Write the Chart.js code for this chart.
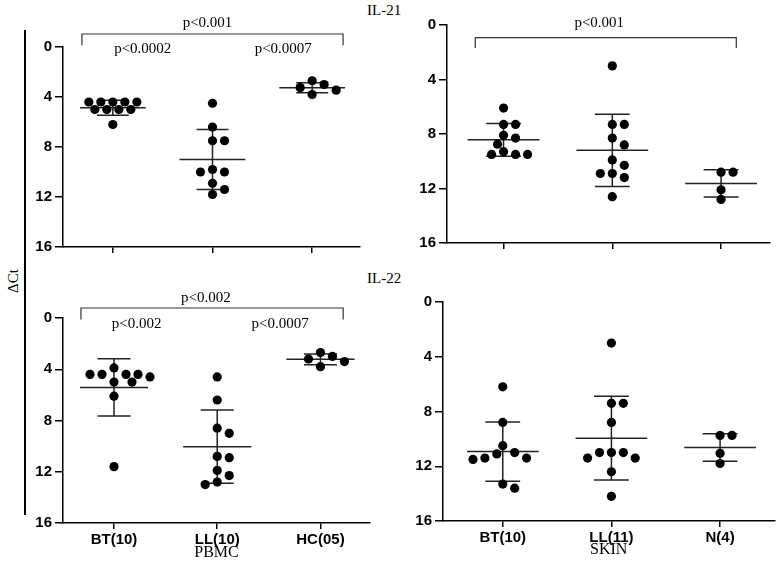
<!DOCTYPE html>
<html>
<head>
<meta charset="utf-8">
<script src="https://cdn.jsdelivr.net/npm/chart.js@4.4.0/dist/chart.umd.min.js"></script>
<style>
  html, body { margin: 0; padding: 0; background: #fff; }
  #fig { position: relative; width: 779px; height: 565px; overflow: hidden; }
  #fig canvas { position: absolute; left: 0; top: 0; }
  .lbl { position: absolute; font-family: 'Liberation Serif', 'Times New Roman', serif; font-size: 15px; line-height: 17px; color: #000; white-space: nowrap; }
  #vline { position: absolute; left: 24px; top: 30px; width: 1.5px; height: 485px; background: #000; }
  #dct { left: 13px; top: 281px; transform: translate(-50%, -50%) rotate(-90deg); }
</style>
</head>
<body>
<div id="fig">
  <div id="vline"></div>
  <div class="lbl" id="dct">ΔCt</div>
  <div class="lbl" style="left:367px; top:2px;">IL-21</div>
  <div class="lbl" style="left:367px; top:270px;">IL-22</div>
  <canvas id="c1" width="779" height="565"></canvas>
  <canvas id="c2" width="779" height="565"></canvas>
  <canvas id="c3" width="779" height="565"></canvas>
  <canvas id="c4" width="779" height="565"></canvas>
</div>
<script>
// groups and axis
const pbmcGroups = ['BT(10)', 'LL(10)', 'HC(05)'];
const skinGroups = ['BT(10)', 'LL(11)', 'N(4)'];
const yTicks = [0, 4, 8, 12, 16];

// IL-21, PBMC (delta Ct)
const il21PbmcBT = [4.4, 4.4, 4.4, 4.4, 4.4, 5.0, 5.0, 5.0, 5.0, 6.2];
const il21PbmcLL = [4.5, 6.4, 7.5, 7.5, 9.8, 10.0, 10.0, 10.9, 11.4, 11.8];
const il21PbmcHC = [2.7, 3.0, 3.25, 3.45, 3.8];
const il21PbmcMean = [4.85, 9.0, 3.25];
const il21PbmcSD = [0.6, 2.4, 0.4];
const il21PbmcP = ['p<0.001', 'p<0.0002', 'p<0.0007'];

// IL-21, skin
const il21SkinBT = [6.1, 7.3, 7.3, 8.1, 8.3, 8.75, 9.3, 9.5, 9.5, 9.5];
const il21SkinLL = [3.0, 7.3, 7.3, 8.3, 8.8, 9.9, 10.3, 10.9, 10.9, 11.2, 12.6];
const il21SkinN = [10.8, 10.8, 12.1, 12.8];
const il21SkinMean = [8.43, 9.2, 11.63];
const il21SkinSD = [1.2, 2.65, 1.0];
const il21SkinP = ['p<0.001'];

// IL-22, PBMC
const il22PbmcBT = [3.9, 4.4, 4.4, 4.4, 4.4, 4.6, 5.0, 5.0, 6.1, 11.6];
const il22PbmcLL = [4.6, 6.4, 8.6, 9.0, 10.8, 10.9, 11.9, 12.3, 12.8, 13.0];
const il22PbmcHC = [2.7, 3.0, 3.2, 3.4, 3.8];
const il22PbmcMean = [5.42, 10.04, 3.22];
const il22PbmcSD = [2.23, 2.85, 0.42];
const il22PbmcP = ['p<0.002', 'p<0.002', 'p<0.0007'];

// IL-22, skin
const il22SkinBT = [6.2, 8.8, 10.5, 11.0, 11.1, 11.4, 11.4, 11.5, 13.3, 13.6];
const il22SkinLL = [3.0, 7.4, 7.4, 8.8, 11.0, 11.0, 11.0, 11.4, 11.4, 12.4, 14.2];
const il22SkinN = [9.75, 9.75, 11.05, 11.8];
const il22SkinMean = [10.93, 9.95, 10.63];
const il22SkinSD = [2.16, 3.06, 1.0];

const W = 779, H = 565, Y_AXIS_W = 50;
const serif = "'Liberation Serif', 'Times New Roman', serif";
const sans = "'Liberation Sans', Arial, sans-serif";

const panels = [
  { id: 'c1', groups: pbmcGroups, sets: [il21PbmcBT, il21PbmcLL, il21PbmcHC], mean: il21PbmcMean, sd: il21PbmcSD,
    box: { left: 63, right: 360, top: 47, bottom: 247 }, xMin: 0.5, xMax: 3.48, xH: 10, labels: false, title: '',
    bracket: { x1: 0.69, x2: 3.31, yTop: -1.04, yEnd: -0.14 },
    notes: il21PbmcP.map((t, i) => ({ text: t, x: [1.95, 1.3, 2.71][i], y: [-1.9, 0.15, 0.15][i] })) },
  { id: 'c2', groups: skinGroups, sets: [il21SkinBT, il21SkinLL, il21SkinN], mean: il21SkinMean, sd: il21SkinSD,
    box: { left: 447, right: 770, top: 25, bottom: 243 }, xMin: 0.48, xMax: 3.45, xH: 10, labels: false, title: '',
    bracket: { x1: 0.74, x2: 3.14, yTop: 0.93, yEnd: 1.69 },
    notes: il21SkinP.map(t => ({ text: t, x: 1.88, y: -0.17 })) },
  { id: 'c3', groups: pbmcGroups, sets: [il22PbmcBT, il22PbmcLL, il22PbmcHC], mean: il22PbmcMean, sd: il22PbmcSD,
    box: { left: 63, right: 370, top: 318, bottom: 523 }, xMin: 0.506, xMax: 3.48, xH: 39, labels: true, title: 'PBMC',
    bracket: { x1: 0.68, x2: 3.22, yTop: -0.78, yEnd: 0.12 },
    notes: il22PbmcP.map((t, i) => ({ text: t, x: [1.89, 1.22, 2.61][i], y: [-1.59, 0.44, 0.44][i] })) },
  { id: 'c4', groups: skinGroups, sets: [il22SkinBT, il22SkinLL, il22SkinN], mean: il22SkinMean, sd: il22SkinSD,
    box: { left: 443, right: 777, top: 302, bottom: 521 }, xMin: 0.45, xMax: 3.5, xH: 38, labels: true, title: 'SKIN',
    bracket: null, notes: [] }
];

// spread equal-ish values sideways like a dot plot
function swarm(values, center, ppx, ppy) {
  const placed = [];
  values.slice().sort((a, b) => a - b).forEach(v => {
    for (let k = 0; k < 40; k++) {
      const off = k === 0 ? 0 : (k % 2 ? (k + 1) / 2 : -k / 2);
      const dx = off * 6;
      const hit = placed.some(q => Math.hypot(q.dx - dx, (q.v - v) * ppy) < 9.5);
      if (!hit) { placed.push({ dx: dx, v: v }); break; }
    }
  });
  return placed.map(q => ({ x: center + q.dx / ppx, y: q.v }));
}

function statsPlugin(p) {
  return {
    id: 'stats' + p.id,
    beforeDatasetsDraw(chart) {
      const ctx = chart.ctx, xs = chart.scales.x, ys = chart.scales.y;
      const seg = (x1, y1, x2, y2) => {
        ctx.beginPath();
        ctx.moveTo(xs.getPixelForValue(x1), ys.getPixelForValue(y1));
        ctx.lineTo(xs.getPixelForValue(x2), ys.getPixelForValue(y2));
        ctx.stroke();
      };
      ctx.save();
      ctx.strokeStyle = '#222';
      ctx.lineWidth = 1.5;
      p.mean.forEach((m, i) => {
        const c = i + 1, lo = m - p.sd[i], hi = m + p.sd[i];
        seg(c - 0.33, m, c + 0.33, m);
        seg(c, lo, c, hi);
        seg(c - 0.16, lo, c + 0.16, lo);
        seg(c - 0.16, hi, c + 0.16, hi);
      });
      ctx.restore();
    },
    afterDraw(chart) {
      const ctx = chart.ctx, xs = chart.scales.x, ys = chart.scales.y;
      const X = v => xs.getPixelForValue(v), Y = v => ys.getPixelForValue(v);
      ctx.save();
      if (p.bracket) {
        const b = p.bracket;
        ctx.strokeStyle = '#333';
        ctx.lineWidth = 1.2;
        ctx.beginPath();
        ctx.moveTo(X(b.x1), Y(b.yEnd));
        ctx.lineTo(X(b.x1), Y(b.yTop));
        ctx.lineTo(X(b.x2), Y(b.yTop));
        ctx.lineTo(X(b.x2), Y(b.yEnd));
        ctx.stroke();
      }
      ctx.fillStyle = '#000';
      ctx.font = '15px ' + serif;
      ctx.textAlign = 'center';
      ctx.textBaseline = 'middle';
      p.notes.forEach(n => ctx.fillText(n.text, X(n.x), Y(n.y)));
      ctx.restore();
    }
  };
}

panels.forEach(p => {
  const ppx = (p.box.right - p.box.left) / (p.xMax - p.xMin);
  const ppy = (p.box.bottom - p.box.top) / 16;
  const points = p.sets.flatMap((vals, gi) => swarm(vals, gi + 1, ppx, ppy));
  const tickFont = { family: sans, size: 15, weight: 'bold' };

  new Chart(document.getElementById(p.id), {
    type: 'scatter',
    data: {
      datasets: [{
        data: points,
        backgroundColor: '#000',
        borderColor: '#000',
        borderWidth: 0,
        pointRadius: 4.6,
        pointHoverRadius: 4.6,
        clip: false
      }]
    },
    options: {
      responsive: false,
      animation: false,
      events: [],
      layout: {
        padding: {
          left: p.box.left - Y_AXIS_W,
          right: W - p.box.right,
          top: p.box.top,
          bottom: H - p.box.bottom - p.xH
        }
      },
      plugins: { legend: { display: false }, tooltip: { enabled: false } },
      scales: {
        x: {
          type: 'linear',
          min: p.xMin,
          max: p.xMax,
          afterBuildTicks: s => { s.ticks = [1, 2, 3].map(v => ({ value: v })); },
          afterFit: s => { s.height = p.xH; },
          ticks: {
            callback: (v, i) => p.labels ? p.groups[i] : '',
            font: tickFont, color: '#000', padding: 2, maxRotation: 0, autoSkip: false
          },
          grid: { drawOnChartArea: false, tickLength: 6, color: '#000', lineWidth: 1.5 },
          border: { color: '#000', width: 1.5 },
          title: { display: !!p.title, text: p.title, color: '#000', padding: 0,
                   font: { family: serif, size: 16 } }
        },
        y: {
          type: 'linear',
          reverse: true,
          min: 0,
          max: 16,
          afterBuildTicks: s => { s.ticks = yTicks.map(v => ({ value: v })); },
          afterFit: s => { s.width = Y_AXIS_W; },
          ticks: { font: tickFont, color: '#000', padding: 3 },
          grid: { drawOnChartArea: false, tickLength: 8, color: '#000', lineWidth: 1.5 },
          border: { color: '#000', width: 1.5 }
        }
      }
    },
    plugins: [statsPlugin(p)]
  });
});
</script>
</body>
</html>
